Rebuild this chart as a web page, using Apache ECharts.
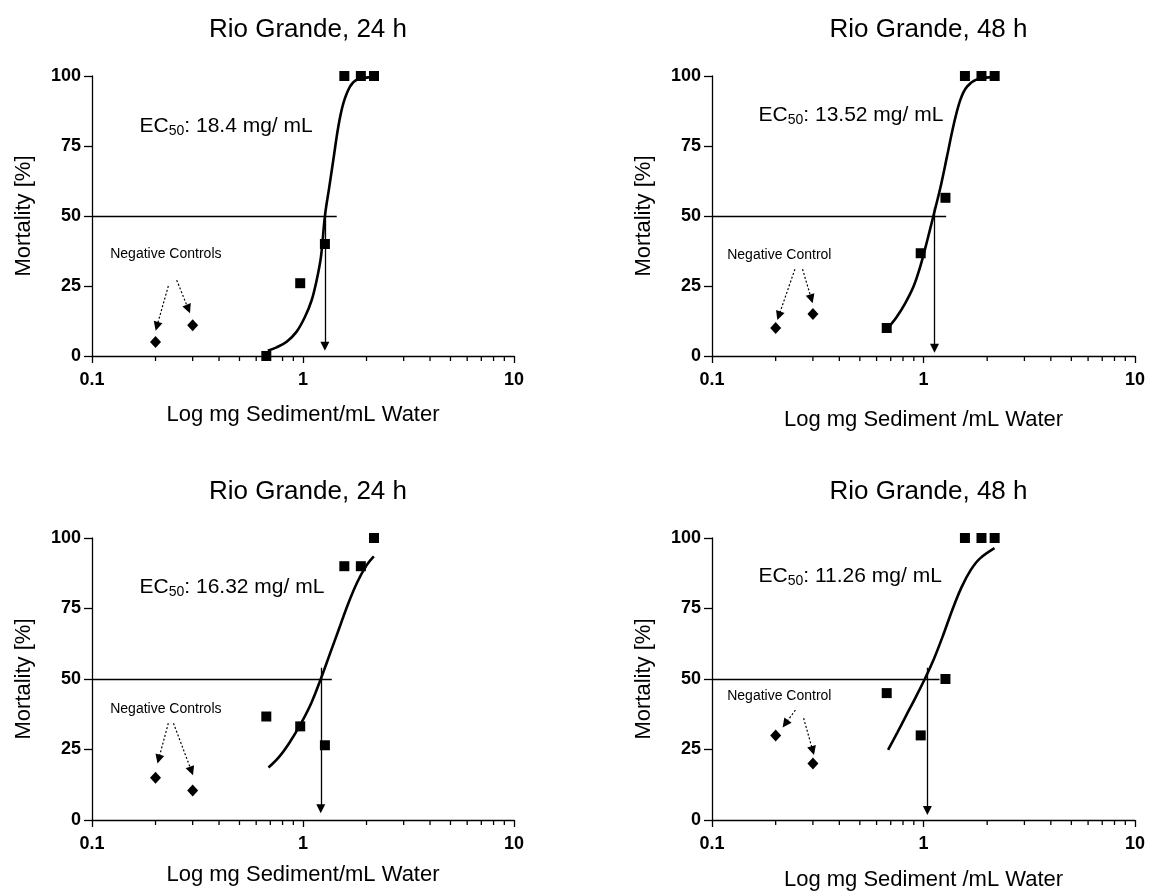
<!DOCTYPE html>
<html><head><meta charset="utf-8">
<script src="https://cdn.jsdelivr.net/npm/echarts@6/dist/echarts.min.js"></script>
<style>html,body{margin:0;padding:0;background:#fff}#c{width:1149px;height:893px}</style>
</head><body><div id="c"></div>
<script>
const FONT = '"Liberation Sans", Arial, Helvetica, sans-serif';

// ---------- data ----------
const titles = ['Rio Grande, 24 h', 'Rio Grande, 48 h', 'Rio Grande, 24 h', 'Rio Grande, 48 h'];
const xNames = ['Log mg Sediment/mL Water', 'Log mg Sediment /mL Water', 'Log mg Sediment/mL Water', 'Log mg Sediment /mL Water'];
const yName = 'Mortality [%]';
const xTickMajor = [0.1, 1, 10];
const xTickMinor = [0.2, 0.3, 0.4, 0.5, 0.6, 0.7, 0.8, 0.9, 2, 3, 4, 5, 6, 7, 8, 9];
const yTicks = [0, 25, 50, 75, 100];

const ec50Text = ['18.4', '13.52', '16.32', '11.26'];
const controlText = ['Negative Controls', 'Negative Control', 'Negative Controls', 'Negative Control'];

const conc = [0.67, 0.97, 1.27, 1.57, 1.88, 2.17];
const mortTL = [0, 26, 40, 100, 100, 100];
const mortTR = [10, 36.7, 56.5, 100, 100, 100];
const mortBL = [36.7, 33.2, 26.5, 90, 90, 100];
const mortBR = [45, 30, 50, 100, 100, 100];

const controlConc = [0.2, 0.3];
const ctrlTL = [5, 11];
const ctrlTR = [10, 15];
const ctrlBL = [15, 10.5];
const ctrlBR = [30, 20];

const fitTLx = [0.681, 0.750, 0.837, 0.933, 1.022, 1.10, 1.161, 1.217, 1.271, 1.333, 1.392, 1.47, 1.553, 1.670, 1.797, 2.154];
const fitTLy = [1.9, 3.1, 5.1, 8.7, 14.0, 20, 27.1, 35.5, 50.2, 60.5, 70, 81.9, 90.2, 96.2, 98.6, 99.7];
const fitTRx = [0.688, 0.748, 0.819, 0.897, 0.965, 1.038, 1.115, 1.2, 1.291, 1.388, 1.492, 1.606, 1.791, 2.147];
const fitTRy = [10.5, 14.0, 18.8, 24.8, 31.9, 40.8, 50.2, 59.9, 71.2, 82.5, 91.4, 96.2, 98.8, 99.6];
const fitBLx = [0.686, 0.767, 0.864, 0.974, 1.098, 1.214, 1.341, 1.482, 1.637, 1.81, 2.0, 2.166];
const fitBLy = [18.6, 22.2, 27.5, 34.0, 41.7, 50.0, 58.9, 67.8, 76.7, 84.4, 90.3, 93.5];
const fitBRx = [0.68, 0.752, 0.83, 0.918, 1.014, 1.121, 1.238, 1.368, 1.512, 1.671, 1.846, 2.166];
const fitBRy = [24.9, 31.0, 37.2, 43.5, 50, 57.2, 65.5, 74.5, 82.5, 88.6, 92.7, 96.4];

const ec50X = [1.27, 1.127, 1.214, 1.043];
const ec50Y = 50;

// ---------- annotation anchors (data coordinates) ----------
const annot = [
  {ecLabel: [0.168, 82], ctrlLabel: [0.122, 36.4], hEnd: 1.445, vTop: 51, vEnd: 3.5,
   arrows: [[[0.23, 25], [0.203, 10.6]], [[0.252, 27.1], [0.286, 16.8]]]},
  {ecLabel: [0.166, 86], ctrlLabel: [0.118, 36], hEnd: 1.28, vTop: 53, vEnd: 2.8,
   arrows: [[[0.2466, 31], [0.207, 14.4]], [[0.268, 31], [0.295, 20.4]]]},
  {ecLabel: [0.168, 82.7], ctrlLabel: [0.122, 39.3], hEnd: 1.369, vTop: 54, vEnd: 4.0,
   arrows: [[[0.230, 34.3], [0.207, 21.6]], [[0.2433, 34.3], [0.296, 17.4]]]},
  {ecLabel: [0.166, 86.3], ctrlLabel: [0.118, 44], hEnd: 1.19, vTop: 54, vEnd: 3.4,
   arrows: [[[0.248, 39.0], [0.2221, 34.1]], [[0.2712, 36.1], [0.2995, 24.6]]]}
];

// ---------- layout ----------
const layout = [
  {left: 92, top: 76, width: 422, height: 280, titleTop: 12, xGap: 48},
  {left: 712, top: 76, width: 423, height: 280, titleTop: 12, xGap: 53},
  {left: 92, top: 538, width: 422, height: 282, titleTop: 474, xGap: 44},
  {left: 712, top: 538, width: 423, height: 282, titleTop: 474, xGap: 49}
];

const morts = [mortTL, mortTR, mortBL, mortBR];
const ctrls = [ctrlTL, ctrlTR, ctrlBL, ctrlBR];
const fitXs = [fitTLx, fitTRx, fitBLx, fitBRx];
const fitYs = [fitTLy, fitTRy, fitBLy, fitBRy];

const black = '#000';
const solid = {color: black, opacity: 1};
const grids = [], xAxes = [], yAxes = [], titleOpts = [], series = [];

layout.forEach((L, i) => {
  grids.push({left: L.left, top: L.top, width: L.width, height: L.height, containLabel: false});
  titleOpts.push({
    text: titles[i], left: L.left + L.width / 2, top: L.titleTop, textAlign: 'center',
    textStyle: {fontFamily: FONT, fontSize: 26, fontWeight: 'normal', color: black}
  });
  xAxes.push({
    type: 'log', logBase: 10, gridIndex: i, min: xTickMajor[0], max: xTickMajor[xTickMajor.length - 1],
    name: xNames[i], nameLocation: 'middle', nameGap: L.xGap,
    nameTextStyle: {fontFamily: FONT, fontSize: 22, color: black},
    axisLine: {show: true, lineStyle: {color: black, width: 1.3}},
    axisTick: {show: true, length: 7, lineStyle: {color: black, width: 1.3}},
    axisLabel: {show: true, margin: 15, fontFamily: FONT, fontSize: 18, fontWeight: 'bold', color: black,
      formatter: v => String(v)},
    splitLine: {show: false}
  });
  yAxes.push({
    type: 'value', gridIndex: i, min: yTicks[0], max: yTicks[yTicks.length - 1], interval: 25,
    name: yName, nameLocation: 'middle', nameGap: 57, nameRotate: 90,
    nameTextStyle: {fontFamily: FONT, fontSize: 22, color: black},
    axisLine: {show: true, lineStyle: {color: black, width: 1.3}},
    axisTick: {show: true, length: 8, lineStyle: {color: black, width: 1.3}},
    axisLabel: {show: true, margin: 11, fontFamily: FONT, fontSize: 18, fontWeight: 'bold', color: black},
    splitLine: {show: false}
  });

  const A = annot[i];
  const base = {xAxisIndex: i, yAxisIndex: i, silent: true, animation: false};

  // minor log ticks
  series.push(Object.assign({}, base, {
    type: 'scatter', symbol: 'rect', symbolSize: [1.3, 5], symbolOffset: [0, 2.5], clip: false,
    itemStyle: solid, z: 1,
    data: xTickMinor.map(v => [v, 0])
  }));
  // fitted curve
  series.push(Object.assign({}, base, {
    type: 'line', smooth: 0.35, showSymbol: false, symbol: 'none', clip: false,
    lineStyle: {color: black, width: 2.6, opacity: 1}, z: 3,
    data: fitXs[i].map((x, k) => [x, fitYs[i][k]])
  }));
  // horizontal 50% line
  series.push(Object.assign({}, base, {
    type: 'lines', coordinateSystem: 'cartesian2d', polyline: false, symbol: ['none', 'none'],
    lineStyle: {color: black, width: 1.3, opacity: 1, curveness: 0}, z: 2,
    data: [{coords: [[xTickMajor[0], ec50Y], [A.hEnd, ec50Y]]}]
  }));
  // vertical EC50 arrow
  series.push(Object.assign({}, base, {
    type: 'lines', coordinateSystem: 'cartesian2d', polyline: false, symbol: ['none', 'triangle'], symbolSize: [0, 9],
    lineStyle: {color: black, width: 1.3, opacity: 1, curveness: 0}, z: 2,
    data: [{coords: [[ec50X[i], A.vTop], [ec50X[i], A.vEnd]]}]
  }));
  // dotted control arrows
  series.push(Object.assign({}, base, {
    type: 'lines', coordinateSystem: 'cartesian2d', polyline: false, symbol: ['none', 'triangle'], symbolSize: [0, 9],
    lineStyle: {color: black, width: 1.2, opacity: 1, type: [2, 2], curveness: 0}, z: 2,
    data: A.arrows.map(a => ({coords: a}))
  }));
  // treatment points
  series.push(Object.assign({}, base, {
    type: 'scatter', symbol: 'rect', symbolSize: 10, clip: false, itemStyle: solid, z: 4,
    data: conc.map((c, k) => [c, morts[i][k]])
  }));
  // negative controls
  series.push(Object.assign({}, base, {
    type: 'scatter', symbol: 'diamond', symbolSize: [11, 12], clip: false, itemStyle: solid, z: 4,
    data: controlConc.map((c, k) => [c, ctrls[i][k]])
  }));
  // EC50 text
  series.push(Object.assign({}, base, {
    type: 'scatter', symbolSize: 0, clip: false, itemStyle: solid, z: 5,
    label: {
      show: true, position: 'right', distance: 0, opacity: 1,
      formatter: '{a|EC}{b|50}{a|: ' + ec50Text[i] + ' mg/ mL}',
      rich: {
        a: {fontFamily: FONT, fontSize: 21, color: black, lineHeight: 22},
        b: {fontFamily: FONT, fontSize: 14, color: black, lineHeight: 14, padding: [10, 0, 0, 0]}
      }
    },
    data: [A.ecLabel]
  }));
  // control text
  series.push(Object.assign({}, base, {
    type: 'scatter', symbolSize: 0, clip: false, itemStyle: solid, z: 5,
    label: {show: true, position: 'right', distance: 0, formatter: controlText[i], opacity: 1,
      fontFamily: FONT, fontSize: 14, color: black},
    data: [A.ctrlLabel]
  }));
});

const chart = echarts.init(document.getElementById('c'), null, {renderer: 'canvas'});
chart.setOption({
  backgroundColor: '#fff',
  animation: false,
  title: titleOpts,
  grid: grids,
  xAxis: xAxes,
  yAxis: yAxes,
  series: series
});
</script>
</body></html>
